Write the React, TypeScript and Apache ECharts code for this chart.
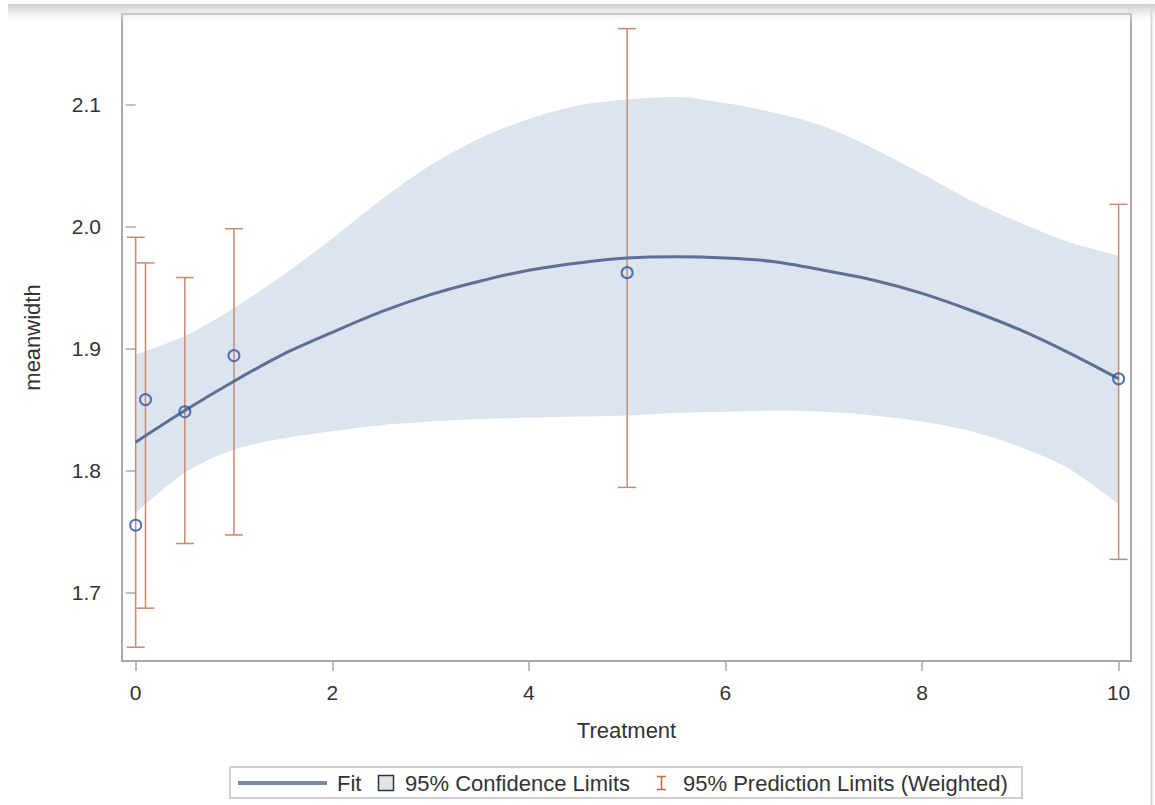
import React, { useEffect, useRef } from "react";
import * as echarts from "echarts";

// Observed data points
const treatment = [0, 0.1, 0.5, 1, 5, 10];
const meanwidth = [1.755, 1.858, 1.848, 1.894, 1.962, 1.875];
const predLower = [1.655, 1.687, 1.740, 1.747, 1.786, 1.727];
const predUpper = [1.991, 1.970, 1.958, 1.998, 2.162, 2.018];

// Fit curve and 95% confidence band
const curveX = [0, 0.5, 1, 1.5, 2, 2.5, 3, 3.5, 4, 4.5, 5, 5.5, 6, 6.5, 7, 7.5, 8, 8.5, 9, 9.5, 10];
const fitY = [1.823, 1.849, 1.873, 1.895, 1.913, 1.930, 1.944, 1.955, 1.964, 1.970, 1.974, 1.975, 1.974, 1.971, 1.964, 1.956, 1.945, 1.931, 1.915, 1.896, 1.875];
const ciLower = [1.765, 1.798, 1.817, 1.826, 1.832, 1.837, 1.840, 1.842, 1.843, 1.844, 1.845, 1.847, 1.848, 1.849, 1.848, 1.845, 1.840, 1.832, 1.819, 1.801, 1.772];
const ciUpper = [1.895, 1.910, 1.933, 1.960, 1.990, 2.022, 2.050, 2.072, 2.088, 2.099, 2.104, 2.106, 2.101, 2.093, 2.082, 2.064, 2.043, 2.021, 2.003, 1.987, 1.976];

// Axis ticks
const xTicks = [0, 2, 4, 6, 8, 10];
const yTicks = [1.7, 1.8, 1.9, 2.0, 2.1];

const FONT = '"Liberation Sans", Arial, sans-serif';
const BAND = "#DCE4EE";
const FIT = "#5C7096";
const ERR = "#C98A6E";
const MARK = "#2B55A8";
const FRAME = "#A6AAAE";
const BAND_ORIGIN = 1.76;

export default function App() {
  const ref = useRef<HTMLDivElement>(null);

  useEffect(() => {
    document.body.style.margin = "0";
    if (!ref.current) return;
    const chart = echarts.init(ref.current, null, { renderer: "svg" });

    const option: any = {
      animation: false,
      backgroundColor: "#ffffff",
      grid: {
        left: 122,
        right: 24,
        top: 14,
        bottom: 144,
        show: true,
        borderColor: FRAME,
        borderWidth: 2,
        backgroundColor: "transparent",
      },
      xAxis: {
        type: "value",
        min: -0.139,
        max: 10.126,
        name: "Treatment",
        nameLocation: "middle",
        nameGap: 58,
        nameTextStyle: { fontFamily: FONT, fontSize: 22, color: "#333333" },
        axisLine: { show: false },
        splitLine: { show: false },
        axisTick: {
          show: true,
          length: 10,
          customValues: xTicks,
          lineStyle: { color: FRAME, width: 1.5 },
        },
        axisLabel: {
          customValues: xTicks,
          margin: 21,
          fontFamily: FONT,
          fontSize: 21,
          color: "#333333",
        },
      },
      yAxis: {
        type: "value",
        min: 1.6437,
        max: 2.174,
        name: "meanwidth",
        nameLocation: "middle",
        nameGap: 79,
        nameTextStyle: { fontFamily: FONT, fontSize: 22, color: "#333333" },
        axisLine: { show: false },
        splitLine: { show: false },
        axisTick: {
          show: true,
          length: 10,
          customValues: yTicks,
          lineStyle: { color: FRAME, width: 1.5 },
        },
        axisLabel: {
          customValues: yTicks,
          margin: 21,
          fontFamily: FONT,
          fontSize: 21,
          color: "#333333",
          formatter: (v: number) => v.toFixed(1),
        },
      },
      series: [
        {
          name: "95% Confidence Limits",
          type: "line",
          smooth: 0.3,
          symbol: "none",
          silent: true,
          z: 1,
          lineStyle: { width: 0, opacity: 0 },
          areaStyle: { color: BAND, opacity: 1, origin: BAND_ORIGIN },
          data: curveX.map((x, i) => [x, ciUpper[i]]),
        },
        {
          name: "ciLowerMask",
          type: "line",
          smooth: 0.3,
          symbol: "none",
          silent: true,
          z: 2,
          lineStyle: { width: 0, opacity: 0 },
          areaStyle: { color: "#ffffff", opacity: 1, origin: BAND_ORIGIN },
          data: curveX.map((x, i) => [x, ciLower[i]]),
        },
        {
          name: "95% Prediction Limits (Weighted)",
          type: "custom",
          z: 3,
          encode: { x: 0, y: [1, 2] },
          data: treatment.map((t, i) => [t, predLower[i], predUpper[i]]),
          renderItem: (params: any, api: any) => {
            const x = api.value(0);
            const lo = api.coord([x, api.value(1)]);
            const hi = api.coord([x, api.value(2)]);
            const hw = 9;
            const st = { stroke: ERR, lineWidth: 1.5 };
            return {
              type: "group",
              children: [
                { type: "line", shape: { x1: lo[0], y1: lo[1], x2: hi[0], y2: hi[1] }, style: st },
                { type: "line", shape: { x1: lo[0] - hw, y1: lo[1], x2: lo[0] + hw, y2: lo[1] }, style: st },
                { type: "line", shape: { x1: hi[0] - hw, y1: hi[1], x2: hi[0] + hw, y2: hi[1] }, style: st },
              ],
            };
          },
        },
        {
          name: "Fit",
          type: "line",
          smooth: 0.3,
          symbol: "none",
          z: 4,
          lineStyle: { color: FIT, width: 3 },
          data: curveX.map((x, i) => [x, fitY[i]]),
        },
        {
          name: "meanwidth",
          type: "scatter",
          z: 5,
          symbol: "circle",
          symbolSize: 11,
          itemStyle: { color: "rgba(0,0,0,0)", borderColor: MARK, borderWidth: 2 },
          data: treatment.map((t, i) => [t, meanwidth[i]]),
        },
      ],
      graphic: [
        {
          type: "rect",
          z: 100,
          silent: true,
          shape: { x: 8, y: 4, width: 1147, height: 22 },
          style: {
            fill: new echarts.graphic.LinearGradient(0, 0, 0, 1, [
              { offset: 0, color: "rgba(200,200,200,0.9)" },
              { offset: 0.4, color: "rgba(222,222,222,0.55)" },
              { offset: 1, color: "rgba(255,255,255,0)" },
            ]),
          },
        },
        {
          type: "line",
          z: 100,
          silent: true,
          shape: { x1: 1151.5, y1: 4, x2: 1151.5, y2: 805 },
          style: { stroke: "#D6D6D6", lineWidth: 2 },
        },
        // Legend
        {
          type: "group",
          z: 100,
          children: [
            {
              type: "rect",
              shape: { x: 230, y: 767, width: 792, height: 31 },
              style: { fill: "#ffffff", stroke: "#CFCFCF", lineWidth: 2 },
            },
            {
              type: "line",
              shape: { x1: 238, y1: 783, x2: 327, y2: 783 },
              style: { stroke: "#7689A8", lineWidth: 4 },
            },
            {
              type: "text",
              x: 337,
              y: 783,
              style: { text: "Fit", fontFamily: FONT, fontSize: 22, fill: "#333333", verticalAlign: "middle" },
            },
            {
              type: "rect",
              shape: { x: 378.5, y: 775.5, width: 15, height: 15 },
              style: { fill: BAND, stroke: "#333333", lineWidth: 1.5 },
            },
            {
              type: "text",
              x: 405,
              y: 783,
              style: {
                text: "95% Confidence Limits",
                fontFamily: FONT,
                fontSize: 22,
                fill: "#333333",
                verticalAlign: "middle",
              },
            },
            {
              type: "line",
              shape: { x1: 661.5, y1: 776, x2: 661.5, y2: 790 },
              style: { stroke: "#C4693F", lineWidth: 1.5 },
            },
            {
              type: "line",
              shape: { x1: 657, y1: 776.5, x2: 666, y2: 776.5 },
              style: { stroke: "#C4693F", lineWidth: 1.5 },
            },
            {
              type: "line",
              shape: { x1: 657, y1: 789.5, x2: 666, y2: 789.5 },
              style: { stroke: "#C4693F", lineWidth: 1.5 },
            },
            {
              type: "text",
              x: 683,
              y: 783,
              style: {
                text: "95% Prediction Limits (Weighted)",
                fontFamily: FONT,
                fontSize: 22,
                fill: "#333333",
                verticalAlign: "middle",
              },
            },
          ],
        },
      ],
    };

    chart.setOption(option);
    return () => chart.dispose();
  }, []);

  return <div ref={ref} style={{ width: 1155, height: 805 }} />;
}
